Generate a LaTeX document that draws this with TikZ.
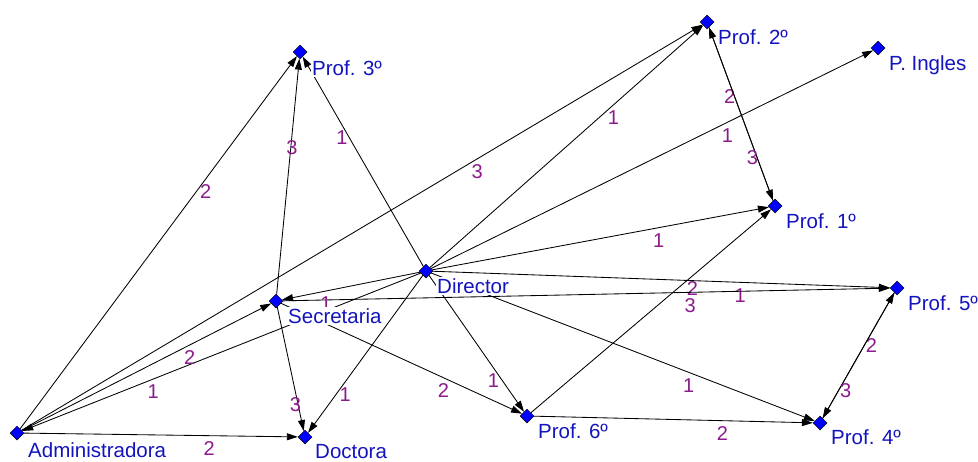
\documentclass[tikz,border=0pt]{standalone}
\usepackage{fontspec}
\setmainfont{Liberation Sans}
\usetikzlibrary{shapes.geometric,arrows.meta,calc,backgrounds}
\definecolor{vblue}{RGB}{0,0,255}
\definecolor{tblue}{RGB}{20,20,190}
\definecolor{wpurple}{RGB}{140,26,140}
\newcommand\edgew[3]{%
  \draw[conn] (#1) -- (#2);
  \node[wt] at ($(#1)!0.667!(#2)$) {#3};}
\begin{document}
\begin{tikzpicture}[x=1pt,y=-1pt,
  vtx/.style={diamond,draw=black,fill=vblue,line width=0.5pt,inner sep=0pt,minimum width=14pt,minimum height=14pt},
  vlab/.style={anchor=base west,fill=white,text=tblue,inner xsep=1pt,inner ysep=1.5pt,font=\fontsize{20.5}{24}\selectfont},
  wt/.style={anchor=center,yshift=-13pt,text=wpurple,inner sep=0pt,font=\fontsize{20}{24}\selectfont},
  conn/.style={draw=black,line width=0.85pt,-{Triangle[length=11pt,width=7pt]}}]
\useasboundingbox (0,0) rectangle (978,461);
% vertices
\node[vtx] (p3)  at (300,52)  {};
\node[vtx] (p2)  at (707,22)  {};
\node[vtx] (pi)  at (878,48)  {};
\node[vtx] (p1)  at (775,206) {};
\node[vtx] (dir) at (426,271) {};
\node[vtx] (sec) at (276,301) {};
\node[vtx] (p5)  at (897,288) {};
\node[vtx] (adm) at (17,433)  {};
\node[vtx] (doc) at (305,437) {};
\node[vtx] (p6)  at (527,416) {};
\node[vtx] (p4)  at (820,423) {};
% vertex labels
\node[vlab] (p3t)  at (311,75)  {Prof. 3º};
\node[vlab] (p2t)  at (717,44)  {Prof. 2º};
\node[vlab] (pit)  at (888,70)  {P. Ingles};
\node[vlab] (p1t)  at (785,228) {Prof. 1º};
\node[vlab] (dirt) at (436,293) {Director};
\node[vlab] (sect) at (287,323) {Secretaria};
\node[vlab] (p5t)  at (907,310) {Prof. 5º};
\node[vlab] (admt) at (27,457)  {Administradora};
\node[vlab] (doct) at (314,458) {Doctora};
\node[vlab] (p6t)  at (537,438) {Prof. 6º};
\node[vlab] (p4t)  at (830,444) {Prof. 4º};
\begin{pgfonlayer}{background}
\fill[white] (0,0) rectangle (978,461);
\edgew{adm}{p3}{2}
\edgew{sec}{p3}{3}
\edgew{dir}{p3}{1}
\edgew{adm}{p2}{3}
\edgew{dir}{p2}{1}
\edgew{dir}{pi}{1}
\edgew{dir}{p1}{1}
\edgew{p1}{p2}{2}
\edgew{p2}{p1}{3}
\edgew{p6}{p1}{2}
\edgew{dir}{p5}{1}
\edgew{sec}{p5}{3}
\edgew{p4}{p5}{2}
\edgew{p5}{p4}{3}
\edgew{dir}{sec}{1}
\edgew{dir}{adm}{1}
\edgew{adm}{sec}{2}
\edgew{adm}{doc}{2}
\edgew{sec}{doc}{3}
\edgew{dir}{doc}{1}
\edgew{sec}{p6}{2}
\edgew{dir}{p6}{1}
\edgew{dir}{p4}{1}
\edgew{p6}{p4}{2}
\end{pgfonlayer}
\end{tikzpicture}
\end{document}
